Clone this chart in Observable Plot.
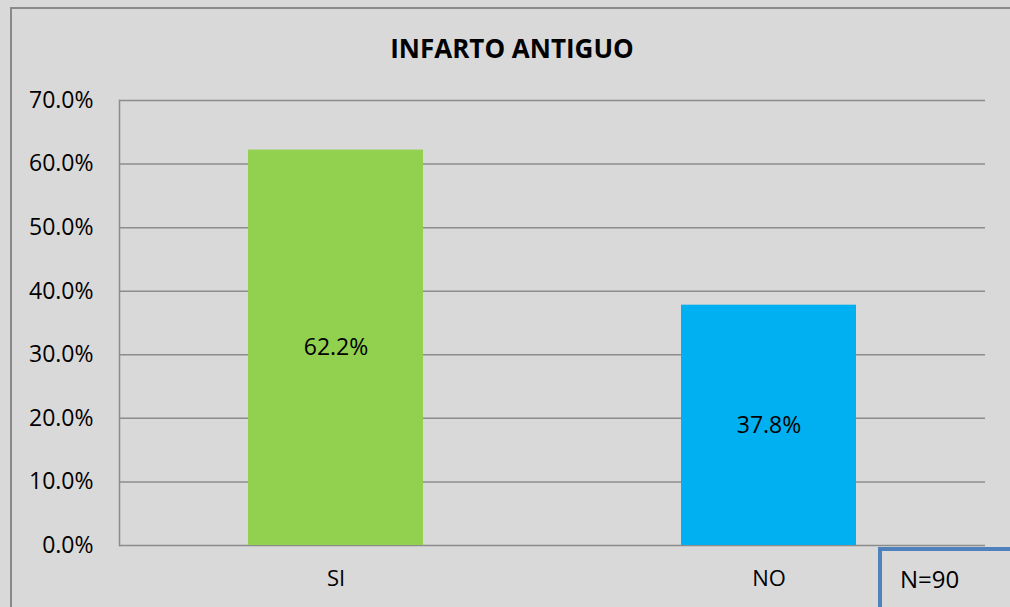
<!DOCTYPE html>
<html>
<head>
<meta charset="utf-8">
<script src="https://cdn.jsdelivr.net/npm/d3@7"></script>
<script src="https://cdn.jsdelivr.net/npm/@observablehq/plot@0.6"></script>
<style>
  html, body { margin: 0; padding: 0; background: #d9d9d9; overflow: hidden; }
  #wrap { position: relative; width: 1010px; height: 607px; overflow: hidden; background: #d9d9d9; font-family: "Open Sans", sans-serif; }
  #bTop { position: absolute; left: 10px; top: 7px; width: 1000px; height: 2px; background: #8a8a8a; }
  #bLeft { position: absolute; left: 10px; top: 7px; width: 2px; height: 600px; background: #8a8a8a; }
  #title { position: absolute; left: 0; width: 1010px; top: 32px; padding-left: 14px; box-sizing: border-box; text-align: center; font-weight: bold; font-size: 26px; line-height: 32px; color: #000; }
  #nTop { position: absolute; left: 878px; top: 547px; width: 132px; height: 4px; background: #4f81bd; }
  #nLeft { position: absolute; left: 878px; top: 547px; width: 4px; height: 60px; background: #4f81bd; }
  #ntext { position: absolute; left: 900px; top: 563px; font-size: 24px; line-height: 32px; color: #000; }
  #chart { position: absolute; left: 0; top: 0; width: 1010px; height: 607px; }
</style>
</head>
<body>
<div id="wrap">
  <div id="bTop"></div>
  <div id="bLeft"></div>
  <div id="chart"></div>
  <div id="title"></div>
  <div id="nTop"></div>
  <div id="nLeft"></div>
  <div id="ntext"></div>
</div>
<script>
const title = "INFARTO ANTIGUO";
const categories = ["SI", "NO"];
const values = [0.622, 0.378];
const colors = ["#92d050", "#00b0f0"];
const yTicks = [0, 0.1, 0.2, 0.3, 0.4, 0.5, 0.6, 0.7];
const note = "N=90";

const data = categories.map((c, i) => ({ category: c, value: values[i], color: colors[i] }));
const fmt = d3.format(".1%");

document.getElementById("title").textContent = title;
document.getElementById("ntext").textContent = note;

const plot = Plot.plot({
  width: 1010,
  height: 607,
  marginLeft: 119,
  marginRight: 25,
  marginTop: 100,
  marginBottom: 62,
  style: { background: "transparent", fontFamily: "Open Sans, sans-serif", color: "#000" },
  x: { domain: categories, padding: 0, label: null },
  y: { domain: [0, 0.7], label: null },
  marks: [
    Plot.ruleY(yTicks, { stroke: "#8c8c8c", strokeWidth: 1.5 }),
    Plot.frame({ anchor: "left", stroke: "#8c8c8c", strokeWidth: 1.5 }),
    Plot.barY(data, { x: "category", y: "value", fill: "color", insetLeft: 129, insetRight: 129 }),
    Plot.text(data, { x: "category", y: d => d.value / 2, text: d => fmt(d.value), fontSize: 23, fill: "#000" }),
    Plot.axisY({ ticks: yTicks, tickFormat: fmt, tickSize: 0, tickPadding: 26, fontSize: 23, label: null }),
    Plot.axisX({ tickSize: 0, tickPadding: 25, fontSize: 22, label: null })
  ]
});
document.getElementById("chart").appendChild(plot);
</script>
</body>
</html>
